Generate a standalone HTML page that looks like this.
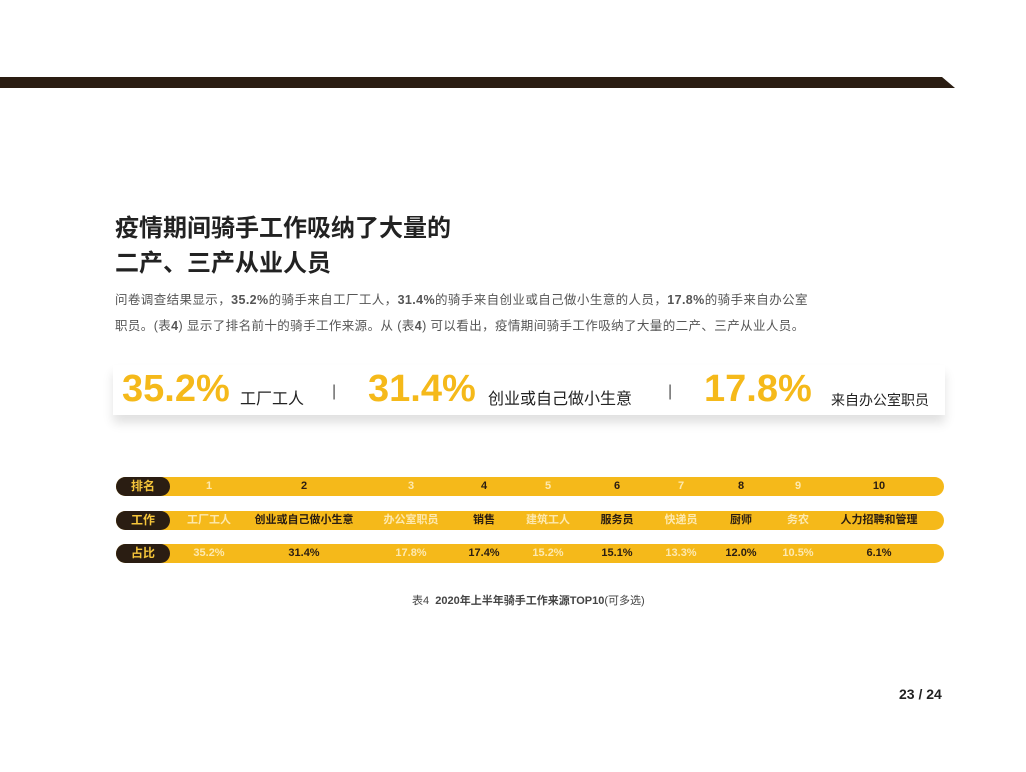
<!DOCTYPE html>
<html><head><meta charset="utf-8"><style>
body{margin:0;width:1026px;height:772px;background:#fff;position:relative;overflow:hidden;font-family:"Liberation Sans","Noto Sans CJK SC",sans-serif;}
.a{position:absolute;white-space:nowrap}
.pill{position:absolute;left:116px;width:828px;height:19px;background:#f5b91a;border-radius:10px}
.lab{position:absolute;left:0;top:0;width:54px;height:19px;background:#2a1d12;border-radius:10px;color:#f5c53a;font-size:12px;font-weight:bold;line-height:19px;text-align:center}
.c{position:absolute;top:0;line-height:19px;font-size:11px;font-weight:bold;transform:translateX(-50%);white-space:nowrap}
.o{color:#fde9b0}.e{color:#2a1d12}
.big{color:#f5b91a;font-weight:bold;font-size:38px}
</style></head><body>
<svg class="a" style="left:0;top:77px" width="960" height="12"><polygon points="0,0 942,0 955,11 0,11" fill="#2a1d12"/></svg>
<div class="a" style="left:115px;top:211px;font-size:24px;font-weight:bold;color:#222;line-height:35px">疫情期间骑手工作吸纳了大量的<br>二产、三产从业人员</div>
<div class="a" style="left:115px;top:287px;font-size:12.5px;letter-spacing:0.4px;color:#555;line-height:26px">问卷调查结果显示，<b>35.2%</b>的骑手来自工厂工人，<b>31.4%</b>的骑手来自创业或自己做小生意的人员，<b>17.8%</b>的骑手来自办公室<br>职员。(表<b>4</b>) 显示了排名前十的骑手工作来源。从 (表<b>4</b>) 可以看出，疫情期间骑手工作吸纳了大量的二产、三产从业人员。</div>
<div class="a" style="left:113px;top:365px;width:832px;height:50px;background:#fff;box-shadow:0 8px 10px rgba(0,0,0,0.12)"></div>
<div class="a big" style="left:122px;top:368px">35.2%</div>
<div class="a" style="left:240px;top:385px;font-size:16px;color:#222">工厂工人</div>
<div class="a" style="left:332px;top:383px;font-size:16px;color:#555">|</div>
<div class="a big" style="left:368px;top:368px">31.4%</div>
<div class="a" style="left:488px;top:385px;font-size:16px;color:#222">创业或自己做小生意</div>
<div class="a" style="left:668px;top:383px;font-size:16px;color:#555">|</div>
<div class="a big" style="left:704px;top:368px">17.8%</div>
<div class="a" style="left:831px;top:390px;font-size:14px;color:#222">来自办公室职员</div>

<div class="pill" style="top:477px"><div class="lab">排名</div>
<div class="c o" style="left:93px">1</div><div class="c e" style="left:188px">2</div><div class="c o" style="left:295px">3</div><div class="c e" style="left:368px">4</div><div class="c o" style="left:432px">5</div><div class="c e" style="left:501px">6</div><div class="c o" style="left:565px">7</div><div class="c e" style="left:625px">8</div><div class="c o" style="left:682px">9</div><div class="c e" style="left:763px">10</div></div>
<div class="pill" style="top:511px"><div class="lab">工作</div>
<div class="c o" style="left:93px">工厂工人</div><div class="c e" style="left:188px">创业或自己做小生意</div><div class="c o" style="left:295px">办公室职员</div><div class="c e" style="left:368px">销售</div><div class="c o" style="left:432px">建筑工人</div><div class="c e" style="left:501px">服务员</div><div class="c o" style="left:565px">快递员</div><div class="c e" style="left:625px">厨师</div><div class="c o" style="left:682px">务农</div><div class="c e" style="left:763px">人力招聘和管理</div></div>
<div class="pill" style="top:544px"><div class="lab">占比</div>
<div class="c o" style="left:93px">35.2%</div><div class="c e" style="left:188px">31.4%</div><div class="c o" style="left:295px">17.8%</div><div class="c e" style="left:368px">17.4%</div><div class="c o" style="left:432px">15.2%</div><div class="c e" style="left:501px">15.1%</div><div class="c o" style="left:565px">13.3%</div><div class="c e" style="left:625px">12.0%</div><div class="c o" style="left:682px">10.5%</div><div class="c e" style="left:763px">6.1%</div></div>

<div class="a" style="left:412px;top:592px;font-size:11px;color:#444">表4 &nbsp;<b>2020年上半年骑手工作来源TOP10</b>(可多选)</div>
<div class="a" style="left:899px;top:686px;font-size:14px;font-weight:bold;color:#222">23 / 24</div>
</body></html>
